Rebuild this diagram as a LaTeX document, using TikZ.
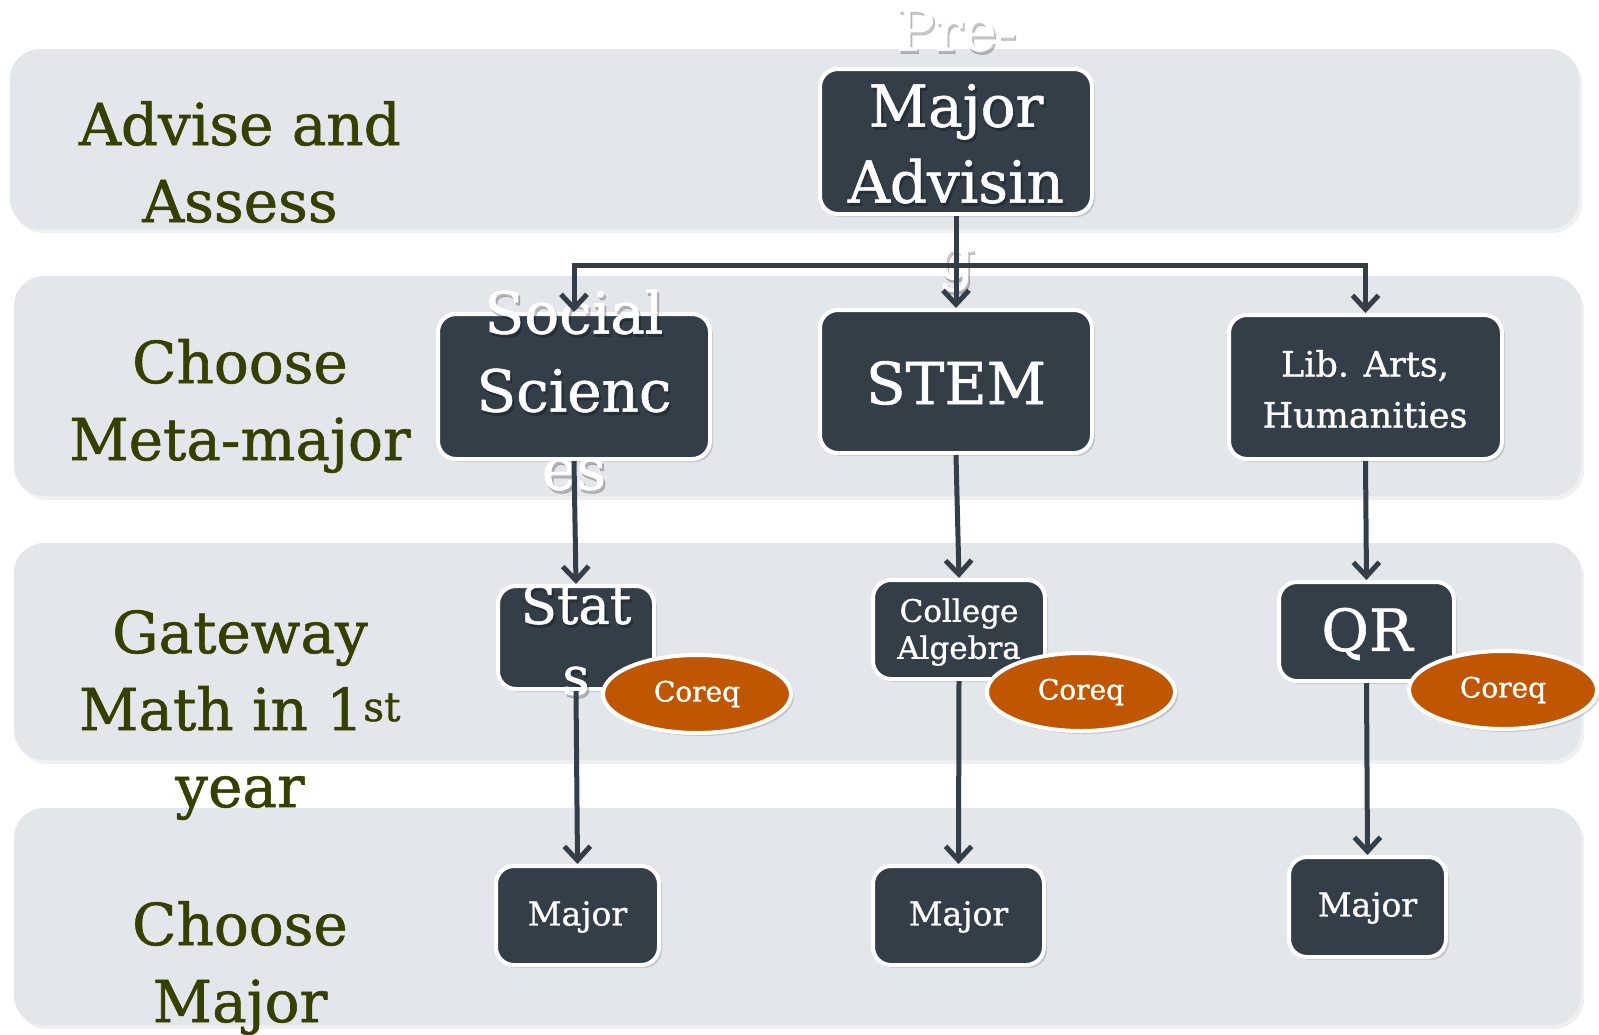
\documentclass[tikz,border=0pt]{standalone}
\usepackage{fontspec}
\setmainfont{DejaVu Serif}
\newfontfamily\rockfont{DejaVu Serif}[FakeBold=1]
\usetikzlibrary{arrows.meta,shapes.geometric,shadows}
\definecolor{bandc}{RGB}{227,231,236}
\definecolor{boxfill}{RGB}{51,62,73}
\definecolor{olivec}{RGB}{53,64,0}
\definecolor{coreqc}{RGB}{192,87,0}
\begin{document}
\begin{tikzpicture}[x=1pt,y=-1pt,
  bandbox/.style={fill=bandc, rounded corners=30pt, inner sep=0, outer sep=0,
    drop shadow={shadow xshift=3pt, shadow yshift=-4pt, opacity=0.12}},
  darkbox/.style={draw=white, line width=4pt, fill=boxfill, rounded corners=18pt, inner sep=0,
    drop shadow={shadow xshift=3pt, shadow yshift=-3pt, opacity=0.3}},
  boxtext/.style={text=white, align=center, inner sep=0},
  shadtext/.style={text=black, text opacity=0.22, align=center, inner sep=0},
  stagetext/.style={text=olivec, align=center, inner sep=0, font=\rockfont\fontsize{58}{77}\selectfont},
  coreqnode/.style={ellipse, draw=white, line width=4pt, fill=coreqc, minimum width=188pt, minimum height=78pt, inner sep=0, text=white, font=\rockfont\fontsize{28}{30}\selectfont,
    drop shadow={shadow xshift=3pt, shadow yshift=-3pt, opacity=0.3}},
  arr/.style={draw=boxfill, line width=5pt, -{Straight Barb[length=14pt,width=26pt]}},
  big/.style={font=\rockfont\fontsize{58}{76}\selectfont},
]
\useasboundingbox (0,0) rectangle (1599,1034);
% bands
\node[bandbox, minimum width=1569pt, minimum height=180pt] (band1) at (794.5,139) {};
\node[bandbox, minimum width=1567pt, minimum height=220pt] (band2) at (797.5,386) {};
\node[bandbox, minimum width=1567pt, minimum height=217pt] (band3) at (797.5,651.5) {};
\node[bandbox, minimum width=1567pt, minimum height=217pt] (band4) at (797.5,916.5) {};
% stage labels
\node[stagetext] (l1) at (240,162) {Advise and\\Assess};
\node[stagetext] (l2) at (240,406) {Choose\\Meta-major};
\node[stagetext] (l3) at (240,715) {Gateway\\Math in 1\textsuperscript{st}\\year};
\node[stagetext] (l4) at (240,968) {Choose\\Major};
% boxes
\node[darkbox, minimum width=272pt, minimum height=145pt] (pm) at (956,141.5) {};
\node[darkbox, minimum width=272pt, minimum height=145pt] (soc) at (574,386.5) {};
\node[darkbox, minimum width=272pt, minimum height=143pt] (stem) at (956,381.5) {};
\node[darkbox, minimum width=273pt, minimum height=144pt] (lib) at (1365.5,387) {};
\node[darkbox, minimum width=156pt, minimum height=103pt] (stats) at (576,637.5) {};
\node[darkbox, minimum width=172pt, minimum height=99pt] (coll) at (959,629.5) {};
\node[darkbox, minimum width=175pt, minimum height=99pt] (qr) at (1366.5,631.5) {};
\node[darkbox, minimum width=163pt, minimum height=99pt] (maj1) at (577.5,915.5) {};
\node[darkbox, minimum width=171pt, minimum height=99pt] (maj2) at (958.5,915.5) {};
\node[darkbox, minimum width=157pt, minimum height=100pt] (maj3) at (1367.5,907) {};
% box texts (with faint text shadow)
\node[shadtext, big] (pms) at (958,153) {Pre-\\Major\\Advisin\\g};
\node[boxtext, big] (pmt) at (956,150) {Pre-\\Major\\Advisin\\g};
\node[shadtext, font=\rockfont\fontsize{58}{78}\selectfont] (socs) at (576,393) {Social\\Scienc\\es};
\node[boxtext, font=\rockfont\fontsize{58}{78}\selectfont] (soct) at (574,390) {Social\\Scienc\\es};
\node[boxtext, big] (stemt) at (956,383) {STEM};
\node[boxtext, font=\rockfont\fontsize{35}{51}\selectfont] (libt) at (1365,389) {Lib. Arts,\\Humanities};
\node[shadtext, font=\rockfont\fontsize{53}{71}\selectfont] (statss) at (578,643) {Stat\\s};
\node[boxtext, font=\rockfont\fontsize{53}{71}\selectfont] (statst) at (576,640) {Stat\\s};
\node[boxtext, font=\rockfont\fontsize{31}{37}\selectfont] (collt) at (959,632) {College\\Algebra};
\node[boxtext, big] (qrt) at (1367,634) {QR};
\node[boxtext, font=\rockfont\fontsize{33}{40}\selectfont] (maj1t) at (577.5,917) {Major};
\node[boxtext, font=\rockfont\fontsize{33}{40}\selectfont] (maj2t) at (958.5,917) {Major};
\node[boxtext, font=\rockfont\fontsize{33}{40}\selectfont] (maj3t) at (1367.5,908) {Major};
% connectors
\coordinate (hub) at (956,265);
\draw[arr] (pm.south) -- (stem.north);
\draw[arr] (hub) -| (soc.north);
\draw[arr] (hub) -| (lib.north);
\draw[arr] (soc.south) -- (stats.north);
\draw[arr] (stem.south) -- (coll.north);
\draw[arr] (lib.south) -- (qr.north);
\draw[arr] (stats.south) -- (maj1.north);
\draw[arr] (coll.south) -- (maj2.north);
\draw[arr] (qr.south) -- (maj3.north);
% coreq
\node[coreqnode] (c1) at (697,694) {Coreq};
\node[coreqnode] (c2) at (1081,692) {Coreq};
\node[coreqnode] (c3) at (1503,690) {Coreq};
\end{tikzpicture}
\end{document}
